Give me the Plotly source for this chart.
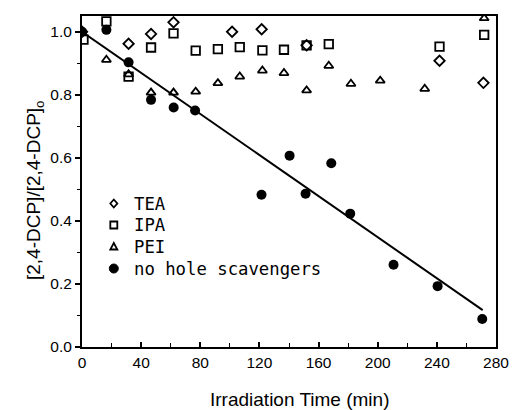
import plotly.graph_objects as go

# TEA (open diamonds)
tea_x = [0, 31.5, 46.7, 61.9, 101.5, 121.5, 151.9, 241.8, 271.5]
tea_y = [1.0, 0.962, 0.993, 1.03, 1.0, 1.008, 0.957, 0.908, 0.838]
# IPA (open squares)
ipa_x = [1, 16.5, 31.5, 46.7, 61.9, 76.9, 91.9, 106.7, 122, 136.6, 151.9, 166.9, 241.8, 272]
ipa_y = [0.975, 1.033, 0.858, 0.95, 0.995, 0.94, 0.945, 0.951, 0.941, 0.943, 0.957, 0.961, 0.953, 0.99]
# PEI (open triangles)
pei_x = [16.5, 31.5, 46.7, 61.9, 76.9, 91.9, 106.7, 122, 136.6, 151.9, 166.9, 181.9, 201.7, 231.8, 272]
pei_y = [0.911, 0.865, 0.807, 0.807, 0.81, 0.837, 0.858, 0.877, 0.869, 0.814, 0.892, 0.835, 0.845, 0.819, 1.043]
# no hole scavengers (filled circles)
nh_x = [0, 16.5, 31.5, 46.7, 62, 76.5, 121.4, 140.4, 151.2, 168.6, 181.4, 210.7, 240.5, 270.7]
nh_y = [1.0, 1.006, 0.903, 0.784, 0.76, 0.75, 0.483, 0.607, 0.486, 0.583, 0.423, 0.261, 0.193, 0.089]
# linear fit line
fit_x = [0, 271]
fit_y = [1.0, 0.117]

legend_labels = ["TEA", "IPA", "PEI", "no hole scavengers"]
x_ticks = [0, 40, 80, 120, 160, 200, 240, 280]
y_ticks = [0, 0.2, 0.4, 0.6, 0.8, 1.0]
y_ticktext = ["0.0", "0.2", "0.4", "0.6", "0.8", "1.0"]

mk_line = dict(color="black", width=1.8)
fig = go.Figure()
fig.add_trace(go.Scatter(x=fit_x, y=fit_y, mode="lines", line=dict(color="black", width=2)))
fig.add_trace(go.Scatter(x=tea_x, y=tea_y, mode="markers", name=legend_labels[0],
                         marker=dict(symbol="diamond-open", size=8, color="black", line=mk_line)))
fig.add_trace(go.Scatter(x=ipa_x, y=ipa_y, mode="markers", name=legend_labels[1],
                         marker=dict(symbol="square-open", size=8.5, color="black", line=mk_line)))
fig.add_trace(go.Scatter(x=pei_x, y=pei_y, mode="markers", name=legend_labels[2],
                         marker=dict(symbol="triangle-up-open", size=8, color="black", line=mk_line)))
fig.add_trace(go.Scatter(x=nh_x, y=nh_y, mode="markers", name=legend_labels[3],
                         marker=dict(symbol="circle", size=10, color="black")))

# manual legend (rows centred at these paper y positions)
row_y = [(347 - py) / 331 for py in (203.5, 225, 246.5, 268.5)]
key_x = (114.5 - 82) / 423
txt_x = (133 - 82) / 423
shapes = []
paths = [
    "M -3.5,0 L 0,4 L 3.5,0 L 0,-4 Z",
    "M -3.5,-3.5 L 3.5,-3.5 L 3.5,3.5 L -3.5,3.5 Z",
    "M -3.5,-3 L 3.5,-3 L 0,3.5 Z",
]
for p, yy in zip(paths, row_y[:3]):
    shapes.append(dict(type="path", path=p, xref="paper", yref="paper",
                       xsizemode="pixel", ysizemode="pixel", xanchor=key_x, yanchor=yy,
                       line=dict(color="black", width=1.8), fillcolor="rgba(0,0,0,0)"))
shapes.append(dict(type="circle", xref="paper", yref="paper", xsizemode="pixel",
                   ysizemode="pixel", xanchor=key_x, yanchor=row_y[3],
                   x0=-4.5, x1=4.5, y0=-4.5, y1=4.5,
                   line=dict(color="black", width=1), fillcolor="black"))

annotations = []
for lab, yy in zip(legend_labels, row_y):
    annotations.append(dict(text=lab, x=txt_x, y=yy, xref="paper", yref="paper",
                            xanchor="left", yanchor="middle", showarrow=False,
                            font=dict(family="DejaVu Sans Mono", size=17.3, color="black")))
annotations.append(dict(text="Irradiation Time (min)", x=(305 - 82) / 423, y=(347 - 399.5) / 331,
                        xref="paper", yref="paper", xanchor="center", yanchor="middle",
                        showarrow=False,
                        font=dict(family="Liberation Sans", size=19, color="black")))
annotations.append(dict(text="[2,4-DCP]/[2,4-DCP]<sub>o</sub>", x=(34 - 82) / 423,
                        y=(347 - 190) / 331, xref="paper", yref="paper",
                        xanchor="center", yanchor="middle", textangle=-90, showarrow=False,
                        font=dict(family="Liberation Sans", size=19, color="black")))

tickfont = dict(family="Liberation Sans", size=15.5, color="black")
fig.update_layout(
    width=521, height=410,
    margin=dict(l=82, r=16, t=16, b=63),
    paper_bgcolor="white", plot_bgcolor="white",
    font=dict(family="Liberation Sans", color="black"),
    showlegend=False,
    shapes=shapes, annotations=annotations,
    xaxis=dict(range=[0, 280], tickvals=x_ticks,
               ticks="inside", ticklen=5, tickwidth=1.5, tickcolor="black",
               minor=dict(dtick=20, ticks="inside", ticklen=4, tickcolor="black", tickwidth=1.2),
               showline=True, linecolor="black", linewidth=2, mirror=True,
               showgrid=False, zeroline=False, tickfont=tickfont),
    yaxis=dict(range=[0, 1.05], tickvals=y_ticks, ticktext=y_ticktext,
               ticks="outside", ticklen=5, tickwidth=1.5, tickcolor="black",
               minor=dict(dtick=0.1, ticks="outside", ticklen=3, tickcolor="black", tickwidth=1.2),
               showline=True, linecolor="black", linewidth=2, mirror=True,
               showgrid=False, zeroline=False, tickfont=tickfont),
)
fig.write_html("out.html")
